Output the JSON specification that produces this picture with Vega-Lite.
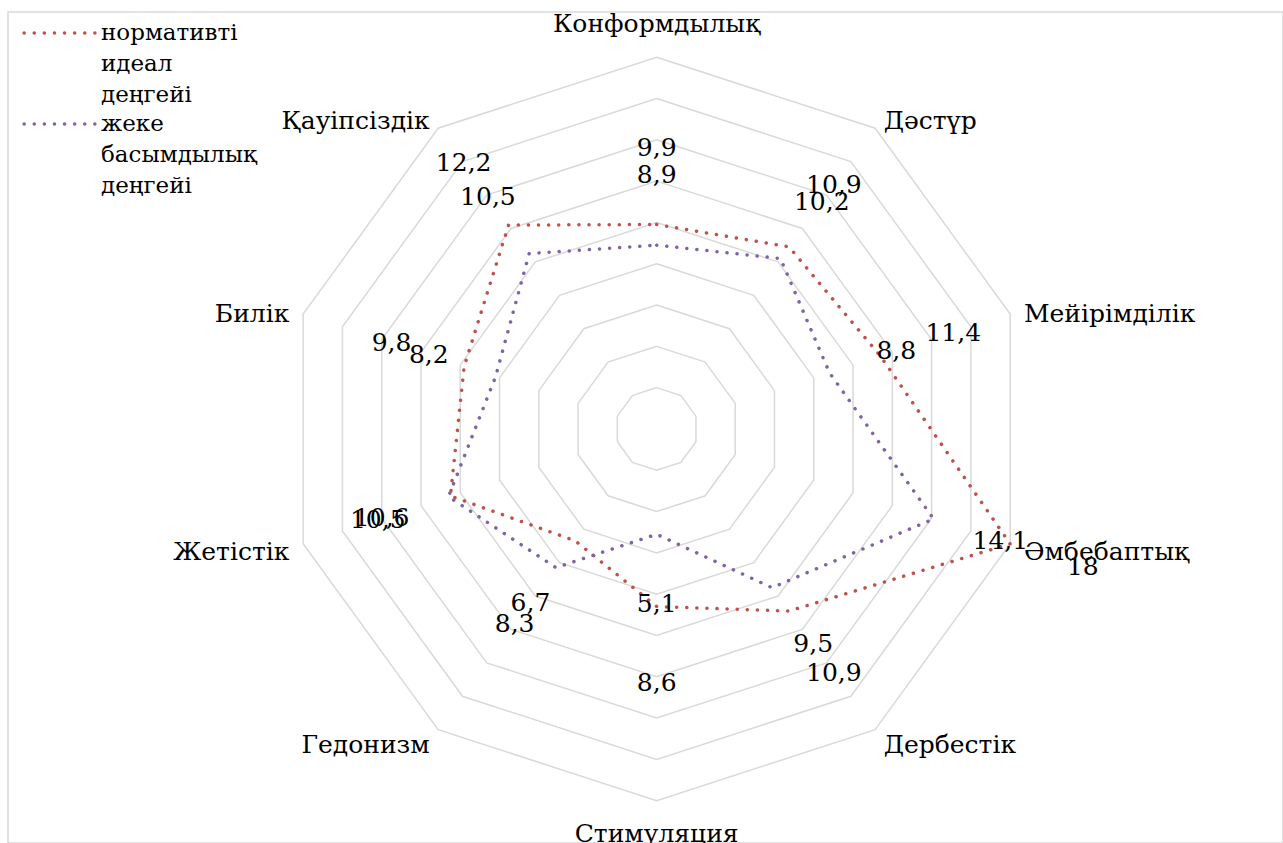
{
  "$schema": "https://vega.github.io/schema/vega-lite/v6.json",
  "width": 1275,
  "height": 831,
  "padding": {"left": 8, "top": 12, "right": 0, "bottom": 0},
  "autosize": {"type": "none"},
  "background": "white",
  "config": {
    "view": {"stroke": "#d9d9d9", "strokeWidth": 1.5},
    "font": "DejaVu Serif"
  },
  "data": {
    "values": [
      {"axis": "Конформдылық", "i": 0, "series": "нормативті идеал деңгейі", "value": 9.9},
      {"axis": "Дәстүр", "i": 1, "series": "нормативті идеал деңгейі", "value": 10.9},
      {"axis": "Мейірімділік", "i": 2, "series": "нормативті идеал деңгейі", "value": 11.4},
      {"axis": "Әмбебаптық", "i": 3, "series": "нормативті идеал деңгейі", "value": 18},
      {"axis": "Дербестік", "i": 4, "series": "нормативті идеал деңгейі", "value": 10.9},
      {"axis": "Стимуляция", "i": 5, "series": "нормативті идеал деңгейі", "value": 8.6},
      {"axis": "Гедонизм", "i": 6, "series": "нормативті идеал деңгейі", "value": 6.7},
      {"axis": "Жетістік", "i": 7, "series": "нормативті идеал деңгейі", "value": 10.5},
      {"axis": "Билік", "i": 8, "series": "нормативті идеал деңгейі", "value": 9.8},
      {"axis": "Қауіпсіздік", "i": 9, "series": "нормативті идеал деңгейі", "value": 12.2},
      {"axis": "Конформдылық", "i": 0, "series": "жеке басымдылық деңгейі", "value": 8.9},
      {"axis": "Дәстүр", "i": 1, "series": "жеке басымдылық деңгейі", "value": 10.2},
      {"axis": "Мейірімділік", "i": 2, "series": "жеке басымдылық деңгейі", "value": 8.8},
      {"axis": "Әмбебаптық", "i": 3, "series": "жеке басымдылық деңгейі", "value": 14.1},
      {"axis": "Дербестік", "i": 4, "series": "жеке басымдылық деңгейі", "value": 9.5},
      {"axis": "Стимуляция", "i": 5, "series": "жеке басымдылық деңгейі", "value": 5.1},
      {"axis": "Гедонизм", "i": 6, "series": "жеке басымдылық деңгейі", "value": 8.3},
      {"axis": "Жетістік", "i": 7, "series": "жеке басымдылық деңгейі", "value": 10.6},
      {"axis": "Билік", "i": 8, "series": "жеке басымдылық деңгейі", "value": 8.2},
      {"axis": "Қауіпсіздік", "i": 9, "series": "жеке басымдылық деңгейі", "value": 10.5}
    ]
  },
  "transform": [
    {"calculate": "datum.i * PI / 5", "as": "ang"},
    {"calculate": "datum.value * sin(datum.ang)", "as": "px"},
    {"calculate": "datum.value * cos(datum.ang)", "as": "py"}
  ],
  "layer": [
    {
      "transform": [
        {"filter": "datum.series == 'нормативті идеал деңгейі'"},
        {"calculate": "[2,4,6,8,10,12,14,16,18]", "as": "ring"},
        {"flatten": ["ring"]},
        {"calculate": "datum.ring * sin(datum.ang)", "as": "gx"},
        {"calculate": "datum.ring * cos(datum.ang)", "as": "gy"}
      ],
      "mark": {"type": "line", "interpolate": "linear-closed", "color": "#d9d9d9", "strokeWidth": 1.5},
      "encoding": {
        "x": {"field": "gx", "type": "quantitative", "scale": {"domain": [-31.41, 30.33], "zero": false, "nice": false}, "axis": null},
        "y": {"field": "gy", "type": "quantitative", "scale": {"domain": [-20.05, 20.19], "zero": false, "nice": false}, "axis": null},
        "detail": {"field": "ring", "type": "nominal"},
        "order": {"field": "i", "type": "quantitative"}
      }
    },
    {
      "mark": {"type": "line", "interpolate": "linear-closed", "strokeWidth": 3.5, "strokeCap": "round", "strokeDash": [0.1, 10]},
      "encoding": {
        "x": {"field": "px", "type": "quantitative", "scale": {"domain": [-31.41, 30.33], "zero": false, "nice": false}, "axis": null},
        "y": {"field": "py", "type": "quantitative", "scale": {"domain": [-20.05, 20.19], "zero": false, "nice": false}, "axis": null},
        "order": {"field": "i", "type": "quantitative"},
        "color": {
          "field": "series",
          "type": "nominal",
          "scale": {"domain": ["нормативті идеал деңгейі", "жеке басымдылық деңгейі"], "range": ["#C0504D", "#8064A2"]},
          "legend": {
            "title": null,
            "orient": "none",
            "legendX": 14,
            "legendY": 6,
            "padding": 0,
            "symbolType": "stroke",
            "symbolSize": 5300,
            "symbolStrokeWidth": 3.5,
            "symbolDash": [0.1, 10],
            "clipHeight": 30,
            "rowPadding": 2,
            "labelExpr": "split(datum.label, ' ')",
            "labelFont": "DejaVu Serif",
            "labelFontSize": 23,
            "labelColor": "black",
            "labelLimit": 0,
            "labelOffset": 2,
            "encode": {
              "labels": {"update": {"lineHeight": {"value": 31}}},
              "symbols": {"update": {"strokeCap": {"value": "round"}}}
            }
          }
        }
      }
    },
    {
      "transform": [
        {"calculate": "replace(format(datum.value, '.1~f'), '.', ',')", "as": "t"},
        {"calculate": "datum.series == 'нормативті идеал деңгейі' ? 3.7 : 3.4", "as": "off"},
        {"calculate": "(datum.value + datum.off) * sin(datum.ang)", "as": "lx"},
        {"calculate": "(datum.value + datum.off) * cos(datum.ang)", "as": "ly"}
      ],
      "mark": {"type": "text", "align": "center", "baseline": "middle", "fontSize": 25, "color": "black"},
      "encoding": {
        "x": {"field": "lx", "type": "quantitative", "scale": {"domain": [-31.41, 30.33], "zero": false, "nice": false}, "axis": null},
        "y": {"field": "ly", "type": "quantitative", "scale": {"domain": [-20.05, 20.19], "zero": false, "nice": false}, "axis": null},
        "text": {"field": "t", "type": "nominal"}
      }
    },
    {
      "transform": [
        {"filter": "datum.series == 'нормативті идеал деңгейі' && datum.i >= 1 && datum.i <= 4"},
        {"calculate": "18.7 * sin(datum.ang)", "as": "ax"},
        {"calculate": "18.7 * cos(datum.ang)", "as": "ay"}
      ],
      "mark": {"type": "text", "align": "left", "baseline": "middle", "dy": 4, "fontSize": 25, "color": "black"},
      "encoding": {
        "x": {"field": "ax", "type": "quantitative", "scale": {"domain": [-31.41, 30.33], "zero": false, "nice": false}, "axis": null},
        "y": {"field": "ay", "type": "quantitative", "scale": {"domain": [-20.05, 20.19], "zero": false, "nice": false}, "axis": null},
        "text": {"field": "axis", "type": "nominal"}
      }
    },
    {
      "transform": [
        {"filter": "datum.series == 'нормативті идеал деңгейі' && datum.i >= 6"},
        {"calculate": "18.7 * sin(datum.ang)", "as": "ax"},
        {"calculate": "18.7 * cos(datum.ang)", "as": "ay"}
      ],
      "mark": {"type": "text", "align": "right", "baseline": "middle", "dy": 4, "fontSize": 25, "color": "black"},
      "encoding": {
        "x": {"field": "ax", "type": "quantitative", "scale": {"domain": [-31.41, 30.33], "zero": false, "nice": false}, "axis": null},
        "y": {"field": "ay", "type": "quantitative", "scale": {"domain": [-20.05, 20.19], "zero": false, "nice": false}, "axis": null},
        "text": {"field": "axis", "type": "nominal"}
      }
    },
    {
      "transform": [
        {"filter": "datum.series == 'нормативті идеал деңгейі' && (datum.i == 0 || datum.i == 5)"},
        {"calculate": "19.6 * sin(datum.ang)", "as": "ax"},
        {"calculate": "19.6 * cos(datum.ang)", "as": "ay"}
      ],
      "mark": {"type": "text", "align": "center", "baseline": "middle", "fontSize": 25, "color": "black"},
      "encoding": {
        "x": {"field": "ax", "type": "quantitative", "scale": {"domain": [-31.41, 30.33], "zero": false, "nice": false}, "axis": null},
        "y": {"field": "ay", "type": "quantitative", "scale": {"domain": [-20.05, 20.19], "zero": false, "nice": false}, "axis": null},
        "text": {"field": "axis", "type": "nominal"}
      }
    }
  ]
}
